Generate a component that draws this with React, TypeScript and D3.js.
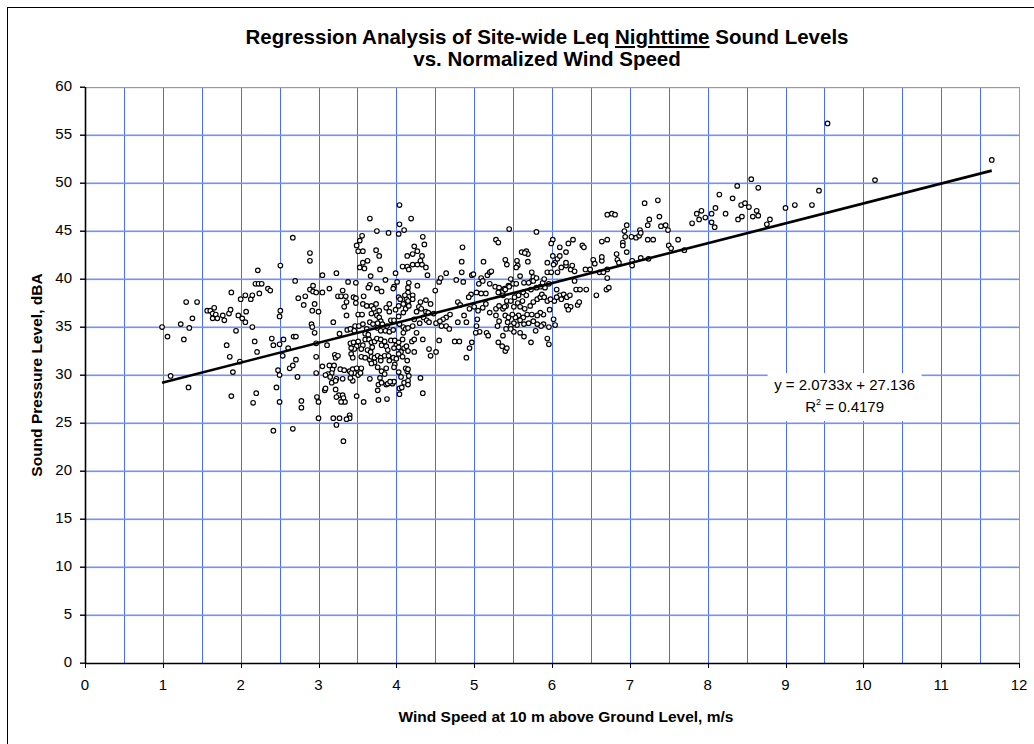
import * as d3 from 'd3';
import React from 'react';

const titleStart = 'Regression Analysis of Site-wide Leq ';
const titleUnderlined = 'Nighttime';
const titleEnd = ' Sound Levels';
const titleLine2 = 'vs. Normalized Wind Speed';
const xAxisTitle = 'Wind Speed at 10 m above Ground Level, m/s';
const yAxisTitle = 'Sound Pressure Level, dBA';

const xTicks = d3.range(0, 13, 1);
const yTicks = d3.range(0, 65, 5);
const xGridLines = d3.range(0.5, 12, 0.5);

const slope = 2.0733;
const intercept = 27.136;
const rSquared = 0.4179;

// [wind speed m/s, Leq dBA]
const nightPoints: [number, number][] = [
  [2.67, 44.3], [2.89, 42.7], [2.89, 41.9], [2.22, 40.9], [2.51, 41.4], [2.70, 39.8], [2.19, 39.5], [2.23, 39.5], [2.27, 39.5], [1.88, 38.6],
  [1.30, 37.6], [1.44, 37.6], [2.00, 37.9], [2.06, 38.3], [2.13, 37.9], [2.15, 38.3], [2.24, 38.5], [2.35, 39.0], [2.38, 38.8], [2.74, 38.0],
  [2.83, 38.2], [2.81, 37.3], [2.89, 38.9], [2.93, 39.3], [2.93, 38.7], [2.97, 38.6], [2.95, 37.4], [2.92, 36.7], [3.00, 36.6], [2.51, 36.7],
  [2.50, 36.1], [1.57, 36.7], [1.61, 36.7], [1.66, 37.0], [1.64, 36.4], [1.68, 36.3], [1.70, 35.9], [1.64, 35.9], [1.79, 35.7], [1.77, 36.2],
  [1.85, 36.4], [1.87, 36.8], [1.38, 35.9], [1.23, 35.3], [1.34, 34.9], [0.99, 35.0], [1.06, 34.0], [1.27, 33.7], [1.97, 36.2], [2.02, 35.9],
  [2.06, 35.5], [2.07, 36.6], [2.15, 35.0], [1.94, 34.6], [1.82, 33.1], [1.86, 31.9], [1.90, 30.3], [1.99, 31.4], [2.18, 33.5], [2.21, 32.4],
  [2.40, 33.8], [2.42, 33.1], [2.50, 33.2], [2.55, 33.7], [2.61, 32.8], [2.54, 32.0], [2.68, 34.0], [2.71, 34.0], [2.95, 34.4], [2.91, 35.3],
  [2.92, 35.0], [2.97, 33.3], [2.48, 30.5], [2.50, 30.0], [2.63, 30.7], [2.67, 31.0], [2.71, 31.6], [2.73, 29.8], [2.97, 31.9], [2.97, 30.2],
  [1.10, 29.9], [1.33, 28.7], [1.88, 27.8], [2.20, 28.1], [2.16, 27.1], [2.46, 28.7], [2.50, 27.2], [2.78, 27.3], [2.78, 26.6], [2.98, 27.7],
  [3.00, 27.2], [3.00, 25.5], [2.42, 24.2], [2.67, 24.4],
  [4.04, 47.7], [3.66, 46.3], [4.04, 45.7], [4.10, 45.1], [4.03, 44.7], [3.75, 45.0], [3.90, 44.8], [3.56, 44.5], [3.53, 44.0], [3.49, 43.5],
  [3.51, 42.9], [3.57, 42.9], [3.74, 43.0], [3.78, 42.4], [3.63, 41.9], [3.57, 41.7], [3.53, 41.2], [3.59, 41.1], [3.79, 41.0], [4.14, 42.4],
  [4.14, 41.3], [4.08, 41.3], [3.23, 40.6], [3.05, 40.4], [3.67, 40.3], [3.99, 40.6], [3.86, 39.9], [3.38, 39.7], [3.48, 39.6], [3.66, 39.4],
  [3.64, 39.1], [3.81, 38.7], [3.75, 39.0], [3.97, 39.2], [3.96, 39.0], [4.01, 39.7], [3.05, 38.6], [3.14, 39.0], [3.31, 38.8], [3.25, 38.2],
  [3.29, 38.2], [3.35, 38.2], [3.45, 38.1], [3.48, 38.0], [3.58, 38.2], [3.36, 37.6], [3.33, 37.1], [3.36, 36.2], [3.48, 37.5], [3.57, 37.4],
  [3.62, 37.2], [3.68, 37.2], [3.74, 37.4], [3.71, 36.9], [3.68, 36.4], [3.51, 36.3], [3.56, 36.3], [3.78, 36.7], [3.75, 36.2], [3.78, 36.0],
  [3.80, 35.6], [3.87, 37.0], [3.91, 37.4], [3.91, 36.6], [3.99, 36.8], [4.03, 38.1], [4.03, 37.2], [4.05, 37.9], [4.09, 37.4], [4.12, 36.9],
  [4.13, 37.9], [4.15, 37.5], [3.19, 35.5], [3.27, 34.3], [3.37, 34.7], [3.41, 34.8], [3.47, 35.1], [3.46, 34.6], [3.52, 35.1], [3.57, 35.3],
  [3.62, 34.8], [3.60, 34.3], [3.64, 34.2], [3.66, 35.5], [3.70, 35.3], [3.76, 35.4], [3.82, 35.3], [3.76, 34.9], [3.80, 34.6], [3.86, 34.6],
  [3.88, 35.1], [3.91, 34.5], [3.96, 34.7], [3.93, 35.7], [3.97, 35.7], [4.03, 36.1], [4.04, 35.3], [4.09, 35.0], [4.12, 34.8], [4.15, 34.9],
  [3.11, 33.1], [3.41, 33.3], [3.45, 33.4], [3.49, 33.0], [3.51, 33.5], [3.57, 33.1], [3.55, 32.7], [3.46, 32.7], [3.42, 32.8], [3.60, 33.7],
  [3.65, 33.7], [3.68, 33.4], [3.72, 33.5], [3.75, 33.8], [3.80, 33.7], [3.81, 33.1], [3.69, 32.9], [3.63, 32.6], [3.67, 32.4], [3.85, 33.5],
  [3.87, 33.0], [3.93, 33.6], [3.98, 33.6], [4.00, 33.1], [4.03, 33.4], [4.08, 33.7], [3.89, 32.6], [3.97, 32.8], [4.03, 32.9], [4.06, 32.4],
  [4.10, 32.8], [4.13, 33.0], [4.15, 32.5], [3.21, 32.1], [3.22, 31.8], [3.25, 32.0], [3.42, 32.2], [3.44, 31.8], [3.55, 31.9], [3.60, 31.8],
  [3.66, 31.6], [3.68, 31.9], [3.72, 31.8], [3.76, 32.0], [3.80, 31.8], [3.85, 32.0], [3.72, 31.3], [3.68, 31.2], [3.80, 31.5], [3.90, 32.0],
  [3.96, 31.8], [4.00, 31.7], [3.98, 31.1], [4.03, 32.2], [3.91, 31.5], [4.08, 31.9], [3.05, 30.9], [3.14, 31.0], [3.18, 30.6], [3.20, 31.0],
  [3.17, 30.2], [3.12, 30.1], [3.28, 30.6], [3.33, 30.5], [3.09, 30.0], [3.15, 29.8], [3.23, 29.6], [3.17, 29.2], [3.22, 29.4], [3.31, 29.6],
  [3.40, 30.4], [3.44, 30.6], [3.49, 30.7], [3.46, 30.2], [3.42, 30.2], [3.44, 29.4], [3.41, 29.7], [3.51, 30.0], [3.55, 30.7], [3.54, 30.2],
  [3.66, 29.6], [3.76, 30.8], [3.81, 30.4], [3.87, 30.7], [3.85, 30.1], [3.79, 29.7], [3.97, 30.8], [4.03, 30.3], [4.06, 29.8], [4.12, 30.7],
  [4.14, 30.4], [4.10, 29.2], [4.15, 29.4], [3.77, 29.0], [3.81, 29.2], [3.76, 28.4], [3.87, 29.0], [3.89, 29.1], [3.95, 29.1], [3.97, 29.3],
  [3.92, 29.3], [4.04, 28.6], [4.07, 28.7], [4.04, 28.0], [3.08, 28.4], [3.09, 28.6], [3.22, 28.5], [3.26, 27.9], [3.31, 27.9], [3.32, 27.6],
  [3.34, 27.2], [3.29, 27.2], [3.23, 27.7], [3.40, 25.8], [3.40, 25.5], [3.27, 25.5], [3.36, 25.4], [3.19, 25.5], [3.23, 24.8], [3.32, 23.1],
  [3.49, 27.8], [3.58, 27.2], [3.77, 27.4], [3.88, 27.5],
  [4.19, 46.3], [4.34, 44.4], [4.36, 43.6], [4.23, 43.4], [4.27, 42.9], [4.21, 42.6], [4.16, 41.0], [4.21, 41.5], [4.27, 41.5], [4.31, 41.9],
  [4.33, 41.5], [4.33, 42.4], [4.38, 41.2], [4.40, 40.4], [4.16, 39.6], [4.15, 39.1], [4.27, 39.3], [4.15, 38.6], [4.50, 38.8], [4.11, 38.3],
  [4.15, 37.7], [4.21, 38.3], [4.21, 37.9], [4.16, 37.2], [4.09, 36.5], [4.31, 37.6], [4.38, 37.8], [4.44, 37.4], [4.29, 37.1], [4.32, 36.9],
  [4.26, 36.6], [4.38, 36.6], [4.41, 36.5], [4.35, 36.0], [4.39, 35.7], [4.42, 35.5], [4.23, 35.8], [4.30, 35.4], [4.21, 35.1], [4.26, 34.4],
  [4.20, 33.5], [4.23, 33.7], [4.34, 33.7], [4.09, 34.4], [4.14, 31.5], [4.23, 32.4], [4.15, 30.6], [4.16, 29.9], [4.15, 29.0], [4.31, 29.7],
  [4.34, 28.1], [4.48, 36.4], [4.51, 35.4], [4.55, 33.6], [4.42, 32.7], [4.44, 32.0], [4.51, 32.4], [4.55, 39.7], [4.57, 40.1], [4.64, 40.6],
  [4.77, 39.9], [4.84, 40.7], [4.84, 41.8], [4.85, 43.3], [4.86, 39.7], [4.97, 40.4], [4.99, 40.5], [5.12, 41.8], [5.17, 40.4], [5.20, 40.7],
  [5.22, 40.8], [5.09, 40.1], [5.11, 39.8], [5.06, 39.5], [5.20, 39.5], [5.27, 39.2], [5.32, 39.1], [5.31, 38.6], [5.37, 38.7], [5.39, 39.0],
  [5.44, 39.3], [5.28, 44.1], [5.31, 43.8], [5.40, 42.0], [5.42, 41.5], [4.96, 38.4], [4.93, 38.1], [5.03, 38.6], [5.09, 38.5], [5.15, 38.5],
  [4.79, 37.6], [4.82, 37.3], [4.94, 36.9], [5.00, 37.1], [5.05, 36.7], [5.11, 37.0], [5.20, 36.5], [5.15, 37.4], [5.04, 35.8], [4.87, 36.2],
  [4.90, 35.5], [4.79, 35.5], [4.69, 36.3], [4.64, 36.0], [4.60, 35.8], [4.56, 35.6], [4.58, 35.1], [4.64, 35.1], [4.68, 34.8], [5.03, 35.1],
  [5.07, 34.5], [5.16, 34.4], [5.18, 34.1], [5.02, 34.4], [4.75, 33.5], [4.81, 33.5], [4.97, 33.4], [4.94, 32.8], [4.90, 31.8], [5.28, 36.9],
  [5.32, 37.2], [5.37, 36.9], [5.41, 37.2], [5.28, 36.2], [5.32, 35.6], [5.40, 36.2], [5.43, 35.5], [5.30, 35.1], [5.41, 34.8], [5.31, 33.4],
  [5.36, 33.0], [5.40, 32.5], [5.42, 32.8],
  [5.45, 45.2], [5.80, 44.9], [6.71, 46.7], [6.01, 44.1], [5.99, 43.7], [6.10, 43.3], [6.21, 43.7], [6.27, 44.1], [6.39, 43.5], [6.41, 43.3],
  [5.61, 42.8], [5.67, 42.9], [5.69, 42.6], [5.65, 42.7], [5.55, 41.9], [5.56, 41.4], [5.54, 41.2], [5.69, 41.8], [5.74, 40.7], [5.76, 40.2],
  [5.74, 39.8], [5.94, 41.7], [6.01, 42.4], [6.04, 41.7], [6.07, 42.1], [6.02, 41.5], [6.10, 42.4], [6.18, 42.8], [5.94, 40.7], [5.99, 40.7],
  [6.07, 40.7], [6.12, 41.2], [6.18, 41.4], [6.24, 41.0], [6.26, 41.4], [6.29, 40.8], [6.18, 41.7], [6.43, 41.0], [6.49, 41.0], [6.53, 42.0],
  [6.55, 41.6], [6.61, 40.7], [6.64, 41.9], [6.66, 40.7], [6.71, 41.0], [6.71, 40.1], [6.70, 38.9], [6.73, 39.1], [6.57, 38.3], [5.47, 40.0],
  [5.50, 39.5], [5.40, 38.9], [5.45, 39.2], [5.54, 39.5], [5.59, 40.3], [5.64, 39.6], [5.70, 39.6], [5.76, 39.8], [5.80, 40.1], [5.73, 38.9],
  [5.80, 39.1], [5.85, 39.2], [5.88, 39.6], [5.90, 40.0], [5.91, 39.1], [5.96, 39.5], [6.06, 38.9], [6.10, 38.3], [6.15, 38.4], [6.19, 38.1],
  [6.23, 38.3], [6.03, 37.7], [6.06, 38.1], [6.12, 37.9], [6.29, 39.8], [6.31, 38.9], [6.36, 38.9], [6.44, 38.9], [6.19, 37.2], [6.24, 37.1],
  [6.33, 37.3], [6.35, 37.6], [6.21, 36.8], [5.37, 38.3], [5.42, 37.7], [5.39, 37.1], [5.47, 37.7], [5.52, 38.1], [5.57, 38.3], [5.63, 38.6],
  [5.67, 38.3], [5.62, 37.7], [5.56, 37.5], [5.51, 37.1], [5.59, 37.1], [5.65, 36.9], [5.72, 37.2], [5.76, 37.6], [5.81, 37.9], [5.85, 38.1],
  [5.87, 38.4], [5.90, 38.1], [5.94, 37.7], [5.98, 37.9], [5.97, 36.8], [5.89, 36.3], [5.85, 36.5], [5.81, 36.2], [5.74, 36.3], [5.68, 36.3],
  [5.63, 36.0], [5.57, 36.2], [5.53, 36.0], [5.49, 36.3], [5.44, 36.0], [6.02, 35.8], [6.04, 35.2], [5.96, 35.0], [5.89, 35.3], [5.86, 35.1],
  [5.81, 35.3], [5.76, 35.6], [5.70, 35.4], [5.64, 35.3], [5.59, 35.7], [5.55, 35.2], [5.51, 35.4], [5.47, 35.1], [5.79, 34.6], [5.94, 33.8],
  [5.96, 33.2], [5.73, 33.4], [5.59, 34.4], [5.64, 34.0], [5.51, 34.5], [5.47, 34.8], [5.37, 34.1],
  [7.19, 47.9], [7.36, 48.2], [6.77, 46.8], [6.81, 46.7], [6.96, 45.6], [6.93, 45.0], [6.94, 44.4], [6.91, 43.8], [6.91, 43.5], [6.96, 42.8],
  [6.83, 42.6], [6.84, 42.0], [6.86, 41.7], [7.02, 44.4], [7.08, 44.3], [7.12, 44.5], [7.13, 45.1], [7.14, 44.8], [7.23, 44.1], [7.30, 44.1],
  [7.25, 46.2], [7.23, 45.6], [7.38, 46.5], [7.40, 45.5], [7.46, 45.6], [7.49, 45.1], [6.64, 43.9], [6.71, 44.1], [6.64, 42.3], [7.50, 43.5],
  [7.53, 43.2], [7.62, 44.1], [7.70, 43.0], [7.03, 41.9], [7.03, 41.4], [7.14, 42.2], [7.24, 42.1], [7.80, 45.8], [7.86, 46.8], [7.89, 46.2],
  [7.92, 47.1], [7.97, 46.4], [8.05, 46.8], [8.10, 47.4], [8.05, 45.9], [8.09, 45.4],
  [8.56, 50.4], [8.38, 49.7], [8.65, 49.5], [8.15, 48.8], [8.32, 48.4], [8.23, 46.8], [8.43, 47.7], [8.48, 47.9], [8.53, 47.5], [8.39, 46.2],
  [8.44, 46.5], [8.58, 46.5], [8.63, 47.1], [8.65, 46.6], [8.76, 45.7], [8.80, 46.2], [9.00, 47.4], [9.12, 47.7], [9.34, 47.7], [9.43, 49.2],
  [9.54, 56.2], [10.15, 50.3], [11.65, 52.4],
];

const font = '"Liberation Sans", Arial, sans-serif';
const gridColor = '#4a6cf0';
const hGridColor = '#7391f3';

// half-pixel snap so 1px lines stay sharp
const snap = (v: number) => Math.round(v) + 0.5;

function App() {
  const width = 1034;
  const height = 744;

  const x = d3.scaleLinear().domain([0, 12]).range([85, 1019]);
  const y = d3.scaleLinear().domain([0, 60]).range([663, 87]);

  const [xMin, xMax] = d3.extent(nightPoints, (d) => d[0]) as [number, number];
  const trend = d3.line<number>()
    .x((d) => x(d))
    .y((d) => y(slope * d + intercept));

  const labelX = x(9.76);
  const labelY = y(27.7);

  return (
    <svg
      width={width}
      height={height}
      style={{ position: 'absolute', left: 0, top: 0, background: '#fff', fontFamily: font }}
    >
      <rect x={7.5} y={7.5} width={1040} height={760} fill="none" stroke="#000" strokeWidth={1} />

      {/* grid */}
      <g>
        {xGridLines.map((v) => (
          <line key={'gx' + v} x1={snap(x(v))} x2={snap(x(v))} y1={y(60)} y2={y(0)} stroke={gridColor} strokeWidth={1} />
        ))}
        {yTicks.filter((v) => v > 0 && v < 60).map((v) => (
          <rect key={'gy' + v} x={x(0)} y={Math.round(y(v)) - 0.5} width={x(12) - x(0)} height={1.6} fill={hGridColor} />
        ))}
        <rect x={x(0)} y={Math.round(y(60))} width={x(12) - x(0)} height={1.2} fill="#9a9a9a" />
        <line x1={snap(x(12))} x2={snap(x(12))} y1={y(60)} y2={y(0)} stroke="#9a9a9a" />
      </g>

      {/* equation label */}
      <rect x={labelX - 77} y={labelY - 24} width={154} height={48} fill="#fff" />
      <text x={labelX} y={labelY - 11} textAnchor="middle" dominantBaseline="middle" fontSize={15}>
        {`y = ${slope}x + ${intercept}`}
      </text>
      <text x={labelX} y={labelY + 11} textAnchor="middle" dominantBaseline="middle" fontSize={15}>
        R<tspan fontSize={9} dy={-5}>2</tspan><tspan dy={5}>{` = ${rSquared}`}</tspan>
      </text>

      {/* points */}
      <g>
        {nightPoints.map((d, i) => (
          <circle key={i} cx={x(d[0])} cy={y(d[1])} r={2.3} fill="#fff" stroke="#000" strokeWidth={1.15} />
        ))}
      </g>

      <path d={trend([xMin, xMax]) || ''} stroke="#000" strokeWidth={2.6} fill="none" />

      {/* axes */}
      <g stroke="#000">
        <line x1={snap(x(0))} x2={snap(x(0))} y1={y(60)} y2={y(0)} strokeWidth={1.6} />
        <line x1={x(0)} x2={x(12)} y1={snap(y(0))} y2={snap(y(0))} strokeWidth={1.6} />
        {xTicks.map((v) => (
          <line key={'tx' + v} x1={snap(x(v))} x2={snap(x(v))} y1={y(0)} y2={y(0) + 5} />
        ))}
      </g>
      {yTicks.map((v) => (
        <rect key={'ty' + v} x={x(0) - 5} y={Math.round(y(v)) - 0.5} width={5} height={1.4} fill="#000" />
      ))}
      {yTicks.map((v) => (
        <text key={'ly' + v} x={x(0) - 13} y={y(v)} textAnchor="end" dominantBaseline="middle" fontSize={15}>
          {v}
        </text>
      ))}
      {xTicks.map((v) => (
        <text key={'lx' + v} x={x(v)} y={y(0) + 23} textAnchor="middle" dominantBaseline="middle" fontSize={15}>
          {v}
        </text>
      ))}

      <text x={566} y={722} textAnchor="middle" fontSize={15.5} fontWeight="bold">{xAxisTitle}</text>
      <text
        transform={`translate(42, ${(y(0) + y(60)) / 2}) rotate(-90)`}
        textAnchor="middle"
        fontSize={15.5}
        fontWeight="bold"
      >
        {yAxisTitle}
      </text>

      <text x={547} y={44} textAnchor="middle" fontSize={20.5} fontWeight="bold">
        {titleStart}
        <tspan style={{ textDecoration: 'underline' }}>{titleUnderlined}</tspan>
        {titleEnd}
      </text>
      <text x={547} y={66} textAnchor="middle" fontSize={20.5} fontWeight="bold">{titleLine2}</text>
    </svg>
  );
}

export default App;
